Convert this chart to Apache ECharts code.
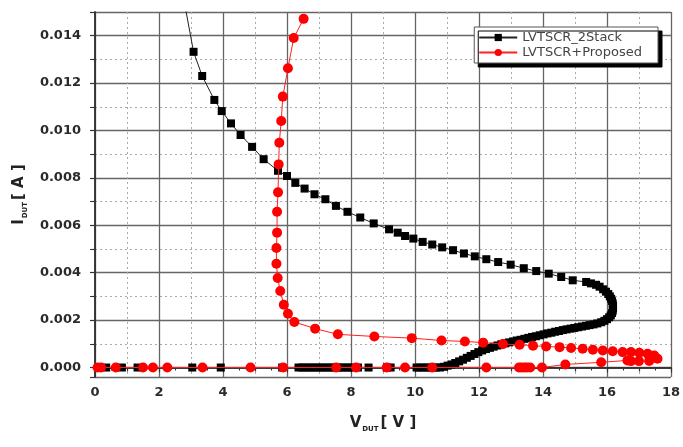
<!DOCTYPE html>
<html>
<head>
<meta charset="utf-8">
<title>LVTSCR I-V</title>
<script src="https://cdn.jsdelivr.net/npm/echarts@6/dist/echarts.min.js"></script>
<style>
    html, body { margin: 0; padding: 0; background: #fff; }
    #chart { width: 683px; height: 447px; }
</style>
</head>
<body>
<div id="chart"></div>
<script>
// V_DUT [V] / I_DUT [A], in curve order
var stackV = [0.35, 0.84, 1.33, 3.04, 3.93, 5.85,
    6.36, 6.48, 6.6, 6.72, 6.84, 6.96, 7.08, 7.2, 7.32, 7.44, 7.56, 7.68, 7.8, 7.92, 8.04,
    8.22, 8.55, 9.12, 9.24, 10.05, 10.17, 10.29, 10.41, 10.53, 10.65, 10.78,
    10.9, 11.02, 11.14, 11.26, 11.38, 11.5, 11.62, 11.74, 11.86, 11.98, 12.1, 12.22, 12.34, 12.46,
    12.58, 12.7, 12.82, 12.94, 13.06, 13.18, 13.3, 13.42, 13.54, 13.66, 13.78, 13.9, 14.02, 14.14,
    14.26, 14.38, 14.5, 14.62, 14.74, 14.86, 14.98, 15.1, 15.22, 15.34, 15.46, 15.58, 15.7, 15.82,
    15.92, 16.0, 16.07, 16.12, 16.16, 16.18, 16.19, 16.19, 16.18, 16.16, 16.13, 16.09, 16.04, 15.97,
    15.88, 15.77, 15.66, 15.5, 15.35, 14.93, 14.57, 14.18, 13.79, 13.4, 12.99, 12.6, 12.23, 11.87,
    11.53, 11.19, 10.85, 10.54, 10.24, 9.95, 9.69, 9.46, 9.19, 8.71, 8.29, 7.89, 7.53, 7.2, 6.86,
    6.55, 6.26, 6.0, 5.72, 5.27, 4.91, 4.55, 4.25, 3.96, 3.73, 3.35, 3.08, 2.78];
var stackI = [0, 0, 0, 0, 0, 0,
    0, 0, 0, 0, 0, 0, 0, 0, 0, 0, 0, 0, 0, 0, 0,
    0, 0, 0, 0, 0, 0, 0, 0, 0, 0, 0,
    0.00003, 0.00008, 0.00013, 0.00019, 0.00026, 0.00033, 0.00041, 0.00049, 0.00057, 0.00065, 0.00072, 0.00078, 0.00083, 0.00088,
    0.00093, 0.00098, 0.00102, 0.00106, 0.0011, 0.00114, 0.00117, 0.00121, 0.00125, 0.00129, 0.00132, 0.00136, 0.0014, 0.00144,
    0.00147, 0.00151, 0.00154, 0.00158, 0.00161, 0.00164, 0.00167, 0.0017, 0.00173, 0.00176, 0.00179, 0.00182, 0.00186, 0.00191,
    0.00197, 0.00204, 0.00212, 0.0022, 0.0023, 0.0024, 0.0025, 0.0026, 0.0027, 0.0028, 0.0029, 0.003, 0.0031, 0.0032,
    0.0033, 0.00341, 0.00349, 0.00355, 0.00361, 0.00368, 0.00382, 0.00396, 0.00407, 0.00419, 0.00434, 0.00445, 0.00457, 0.00469,
    0.00481, 0.00495, 0.00507, 0.00519, 0.0053, 0.00544, 0.00555, 0.00569, 0.00583, 0.00608, 0.00633, 0.00657, 0.00682, 0.0071, 0.00731,
    0.00755, 0.00779, 0.00808, 0.0083, 0.00879, 0.00931, 0.00981, 0.0103, 0.01082, 0.01129, 0.0123, 0.01332, 0.0155];

var propV = [0.08, 0.19, 0.65, 1.5, 1.81, 2.26, 3.36, 4.86, 5.88, 7.54, 8.16, 9.12, 9.69, 10.54,
    12.23, 13.25, 13.33, 13.42, 13.5, 13.6, 13.97, 14.7, 15.82, 16.64, 16.75, 17.0, 17.32, 17.58,
    17.48, 17.27, 17.01, 16.75, 16.49, 16.18, 15.87, 15.56, 15.24, 14.88, 14.52, 14.1, 13.69, 13.27,
    12.75, 12.13, 11.56, 10.83, 9.9, 8.73, 7.59, 6.88, 6.23, 6.03, 5.9, 5.79, 5.71, 5.67, 5.67, 5.69,
    5.69, 5.72, 5.74, 5.76, 5.82, 5.87, 6.03, 6.21, 6.52];
var propI = [0, 0, 0, 0, 0, 0, 0, 0, 0, 0, 0, 0, 0, 0,
    0, 0, 0, 0, 0, 0, 0, 0.00013, 0.00022, 0.0003, 0.00027, 0.00027, 0.00028, 0.00037,
    0.00051, 0.00058, 0.00062, 0.00065, 0.00065, 0.00069, 0.00072, 0.00075, 0.00079, 0.00082, 0.00086, 0.00089, 0.00092, 0.00096,
    0.00099, 0.00105, 0.0011, 0.00114, 0.00124, 0.00131, 0.0014, 0.00164, 0.00192, 0.00227, 0.00265, 0.00323, 0.00378, 0.00438, 0.00504, 0.00569,
    0.00657, 0.00739, 0.00857, 0.00948, 0.0104, 0.01143, 0.01263, 0.0139, 0.01471];

var xTicks = { min: 0, max: 18, step: 2 };
var yTicks = { min: -0.0004, max: 0.015 };

function pairs(xs, ys) {
    var out = [];
    for (var i = 0; i < xs.length; i++) out.push([xs[i], ys[i]]);
    return out;
}

var chart = echarts.init(document.getElementById('chart'), null, { renderer: 'canvas' });

var labelFont = { fontFamily: 'DejaVu Sans', fontWeight: 'bold', fontSize: 13, color: '#2a2a2a' };
var frameLine = { show: true, lineStyle: { color: '#333', width: 1.5 } };
var nameRich = {
    b: { fontFamily: 'DejaVu Sans', fontWeight: 'bold', fontSize: 15, color: '#222', lineHeight: 20 },
    s: { fontFamily: 'DejaVu Sans', fontWeight: 'bold', fontSize: 7, color: '#222', lineHeight: 20, verticalAlign: 'bottom', padding: [0, 2, 0, 1] }
};

var stackData = pairs(stackV, stackI);
// last point only carries the line off the top of the frame
stackData[stackData.length - 1] = { value: stackData[stackData.length - 1], symbolSize: 0 };

chart.setOption({
    animation: false,
    backgroundColor: '#fff',
    grid: { left: 95, right: 10, top: 12, bottom: 70 },
    legend: {
        right: 25, top: 27,
        orient: 'vertical',
        itemWidth: 38, itemHeight: 9, itemGap: 2,
        padding: [4, 16, 4, 4],
        backgroundColor: '#fff',
        borderColor: '#555', borderWidth: 1,
        shadowColor: '#000', shadowBlur: 0, shadowOffsetX: 4, shadowOffsetY: 4,
        textStyle: { fontFamily: 'DejaVu Sans', fontSize: 13, color: '#444' },
        data: ['LVTSCR_2Stack', 'LVTSCR+Proposed']
    },
    xAxis: [{
        type: 'value',
        min: xTicks.min, max: xTicks.max, interval: xTicks.step,
        position: 'bottom',
        name: '{b|V}{s|DUT}{b|[ V ]}',
        nameLocation: 'middle', nameGap: 36,
        nameTextStyle: { rich: nameRich },
        axisLine: frameLine,
        axisTick: { show: true, length: 4, lineStyle: { color: '#333', width: 1.2 } },
        minorTick: { show: true, splitNumber: 2, length: 4, lineStyle: { color: '#333', width: 1.2 } },
        axisLabel: Object.assign({ margin: 9 }, labelFont),
        splitLine: { show: true, lineStyle: { color: '#666', width: 1.3 } },
        minorSplitLine: { show: true, lineStyle: { color: '#aaa', width: 1, type: [2, 3] } }
    }, {
        type: 'value',
        min: xTicks.min, max: xTicks.max, interval: xTicks.step,
        position: 'top',
        axisLine: frameLine,
        axisTick: { show: true, inside: true, length: 5, lineStyle: { color: '#333' } },
        minorTick: { show: true, splitNumber: 4, length: 3, lineStyle: { color: '#333' } },
        axisLabel: { show: false },
        splitLine: { show: false }
    }],
    yAxis: [{
        type: 'value',
        min: yTicks.min, max: yTicks.max, splitNumber: 7,
        name: '{b|I}{s|DUT}{b|[ A ]}',
        nameLocation: 'middle', nameGap: 58,
        nameTextStyle: { rich: nameRich },
        axisLine: frameLine,
        axisTick: { show: true, length: 5, lineStyle: { color: '#333', width: 1.2 } },
        minorTick: { show: true, splitNumber: 2, length: 3, lineStyle: { color: '#333', width: 1.2 } },
        axisLabel: Object.assign({
            margin: 14, showMinLabel: false, showMaxLabel: false,
            formatter: function (v) { return v.toFixed(3); }
        }, labelFont),
        splitLine: { show: true, lineStyle: { color: '#666', width: 1.3 } },
        minorSplitLine: { show: true, lineStyle: { color: '#aaa', width: 1, type: [2, 3] } }
    }, {
        type: 'value',
        min: yTicks.min, max: yTicks.max, splitNumber: 7,
        position: 'right',
        axisLine: frameLine,
        axisTick: { show: true, inside: true, length: 5, lineStyle: { color: '#333' } },
        minorTick: { show: true, splitNumber: 2, length: 5, lineStyle: { color: '#333' } },
        axisLabel: { show: false },
        splitLine: { show: false }
    }],
    series: [{
        name: 'LVTSCR_2Stack',
        type: 'line',
        data: stackData,
        symbol: 'rect', symbolSize: 8,
        showAllSymbol: true,
        itemStyle: { color: '#000' },
        lineStyle: { color: '#222', width: 1 },
        z: 3
    }, {
        name: 'LVTSCR+Proposed',
        type: 'line',
        data: pairs(propV, propI),
        symbol: 'circle', symbolSize: 10,
        showAllSymbol: true,
        itemStyle: { color: '#ff0000' },
        lineStyle: { color: '#ff2020', width: 1 },
        z: 4
    }]
});
</script>
</body>
</html>
